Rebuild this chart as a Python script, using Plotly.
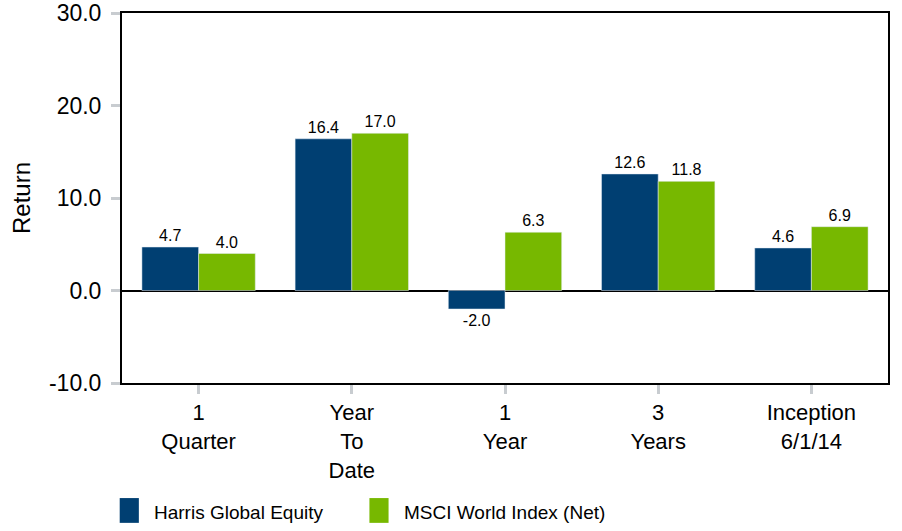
import plotly.graph_objects as go

categories = ["1<br>Quarter", "Year<br>To<br>Date", "1<br>Year", "3<br>Years", "Inception<br>6/1/14"]
harris = [4.7, 16.4, -2.0, 12.6, 4.6]
msci = [4.0, 17.0, 6.3, 11.8, 6.9]
series_names = ["Harris Global Equity", "MSCI World Index (Net)"]
colors = ["#003f72", "#77b800"]
y_ticks = [-10, 0, 10, 20, 30]
y_ticktext = ["-10.0", "0.0", "10.0", "20.0", "30.0"]

font = "Liberation Sans, Arial, sans-serif"

fig = go.Figure()
for name, vals, col in zip(series_names, [harris, msci], colors):
    fig.add_trace(go.Bar(
        x=categories, y=vals, name=name, marker_color=col,
        text=[f"{v:.1f}" for v in vals], textposition="outside",
        textfont=dict(size=16, color="black"), cliponaxis=False,
        showlegend=False,
    ))

# legend drawn by hand to get the big square swatches
legend_x = [-0.003, 0.323]
for name, col, lx in zip(series_names, colors, legend_x):
    fig.add_shape(type="rect", xref="paper", yref="paper",
                  x0=lx, x1=lx + 0.025, y0=-0.378, y1=-0.311,
                  fillcolor=col, line_width=0)
    fig.add_annotation(text=name, xref="paper", yref="paper",
                       x=lx + 0.042, y=-0.35, xanchor="left", yanchor="middle",
                       showarrow=False, font=dict(size=19, color="black", family=font))

fig.update_layout(
    width=902, height=531,
    margin=dict(l=122, r=14, t=13, b=148),
    paper_bgcolor="white", plot_bgcolor="white",
    font=dict(family=font, color="black", size=22),
    barmode="group", bargap=0.26, bargroupgap=0,
)
fig.update_xaxes(
    automargin=False,
    showline=True, mirror=True, linecolor="black", linewidth=2,
    ticks="outside", ticklen=9, tickwidth=3, tickcolor="#c8ccd0",
    tickfont=dict(size=22), showgrid=False,
)
fig.update_yaxes(
    automargin=False,
    range=[-10, 30], tickvals=y_ticks, ticktext=y_ticktext,
    showline=True, mirror=True, linecolor="black", linewidth=2,
    ticks="outside", ticklen=9, tickwidth=3, tickcolor="#c8ccd0",
    ticklabelstandoff=5, tickfont=dict(size=23),
    showgrid=False, zeroline=True, zerolinecolor="black", zerolinewidth=1.5,
    title=dict(text="Return", font=dict(size=24), standoff=12),
)

# drop the default body margin so the figure sits at the page corner
fig.write_html("out.html", config={"displayModeBar": False},
               post_script="document.body.style.margin='0';")
